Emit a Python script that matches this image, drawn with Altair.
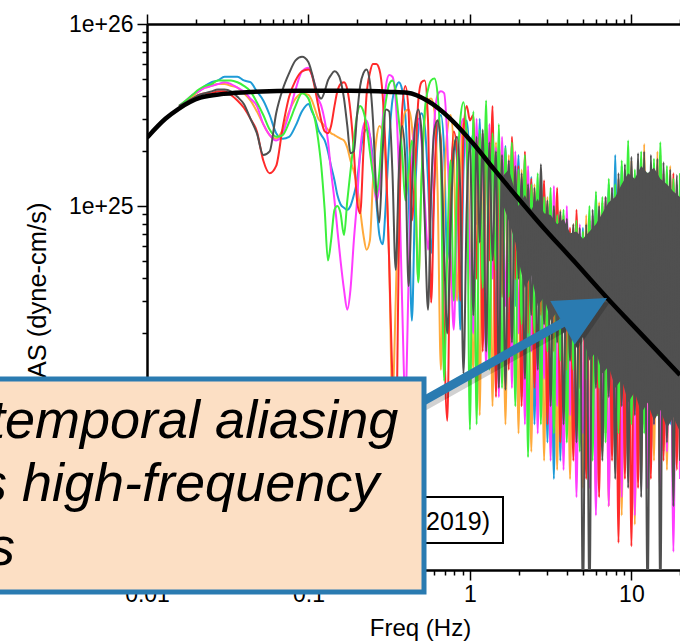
import altair as alt
import pandas as pd

FONT = "Liberation Sans"

# ---------------- frequency grid (Hz) ----------------
FREQ_LOW = [0.0158, 0.0174, 0.0191, 0.0209, 0.0229, 0.0251, 0.0275, 0.0302, 0.0331, 0.0363,
            0.0398, 0.0437, 0.0479, 0.0525, 0.0575, 0.0631, 0.0692, 0.0759, 0.0832, 0.0912]
FREQ_MID = [0.100, 0.105, 0.110, 0.115, 0.120, 0.126, 0.132, 0.138, 0.145, 0.151,
            0.158, 0.166, 0.174, 0.182, 0.191, 0.200, 0.209, 0.219, 0.229, 0.240,
            0.251, 0.263, 0.275, 0.288, 0.302, 0.316, 0.331, 0.347, 0.363, 0.380,
            0.398, 0.417, 0.437, 0.457, 0.479, 0.501, 0.525, 0.550, 0.575, 0.603,
            0.631, 0.661, 0.692, 0.724, 0.759, 0.794, 0.832, 0.871, 0.912, 0.955, 1.000]
FREQ_HIGH = [1.05, 1.10, 1.15, 1.20, 1.26, 1.32, 1.38, 1.45, 1.51, 1.58,
             1.66, 1.74, 1.82, 1.91, 2.00, 2.09, 2.19, 2.29, 2.40, 2.51,
             2.63, 2.75, 2.88, 3.02, 3.16, 3.31, 3.47, 3.63, 3.80, 3.98,
             4.17, 4.37, 4.57, 4.79, 5.01, 5.25, 5.50, 5.75, 6.03, 6.31,
             6.61, 6.92, 7.24, 7.59, 7.94, 8.32, 8.71, 9.12, 9.55, 10.0,
             10.5, 11.0, 11.5, 12.0, 12.6, 13.2, 13.8, 14.5, 15.1, 15.8,
             16.6, 17.4, 18.2, 19.1, 20.0]
FREQS = FREQ_LOW + FREQ_MID + FREQ_HIGH

# ---------------- spectra, log10 amplitude (dyne-cm/s) ----------------
BLUE_LOW = [25.55, 25.57, 25.61, 25.63, 25.66, 25.68, 25.69, 25.71, 25.71, 25.71,
            25.69, 25.68, 25.63, 25.58, 25.50, 25.40, 25.37, 25.38, 25.44, 25.52]
BLUE_MID = [25.56, 25.52, 25.48, 25.42, 25.39, 25.36, 25.30, 25.22, 25.14, 25.06,
            25.01, 24.99, 24.98, 25.00, 25.06, 25.14, 25.28, 25.39, 25.42, 25.39,
            25.25, 25.03, 24.84, 24.79, 25.03, 25.36, 25.58, 25.65, 25.68, 25.64,
            25.50, 25.08, 24.37, 25.03, 25.41, 25.51, 25.44, 25.14, 24.74, 25.14,
            25.44, 25.50, 25.30, 24.70, 25.08, 25.36, 25.25, 24.32, 25.19, 25.47, 25.30]
BLUE_HIGH = [25.40, 24.90, 25.48, 24.45, 25.35, 24.75, 25.45, 24.25, 25.30, 24.60,
             25.33, 24.15, 25.20, 24.45, 25.28, 23.95, 25.12, 24.25, 25.16, 23.80,
             25.02, 24.10, 25.10, 23.70, 24.95, 23.50, 25.02, 23.60, 24.90, 23.90,
             24.86, 23.75, 24.80, 24.05, 24.88, 23.70, 24.92, 23.95, 25.06, 23.60,
             25.00, 23.90, 25.12, 23.65, 25.28, 23.85, 25.22, 23.55, 25.14, 23.90,
             25.10, 23.70, 25.18, 23.95, 25.12, 23.60, 25.08, 23.85, 25.15, 23.65,
             25.05, 23.80, 25.10, 23.70, 25.02]

ORANGE_LOW = [25.55, 25.57, 25.60, 25.63, 25.65, 25.66, 25.67, 25.67, 25.66, 25.65,
              25.62, 25.58, 25.52, 25.45, 25.39, 25.37, 25.42, 25.52, 25.59, 25.62]
ORANGE_MID = [25.61, 25.58, 25.53, 25.48, 25.46, 25.44, 25.42, 25.40, 25.39, 25.38,
              25.37, 25.36, 25.32, 25.25, 25.19, 25.11, 24.98, 24.84, 24.76, 24.81,
              25.14, 25.36, 25.44, 25.41, 25.19, 24.70, 23.93, 24.48, 25.14, 25.41,
              25.52, 25.53, 25.44, 25.19, 24.59, 25.14, 25.47, 25.58, 25.59, 25.52,
              25.08, 24.10, 25.03, 25.41, 25.50, 25.30, 24.48, 25.14, 25.47, 25.41, 24.76]
ORANGE_HIGH = [24.10, 25.30, 23.85, 25.40, 24.40, 25.25, 23.90, 25.35, 24.30, 25.20,
               23.80, 25.28, 24.15, 25.12, 23.75, 25.20, 24.05, 25.05, 23.65, 25.12,
               23.95, 24.98, 23.60, 25.05, 23.85, 24.92, 23.55, 24.98, 23.80, 24.85,
               23.50, 24.90, 23.75, 24.82, 23.45, 24.95, 23.70, 24.90, 23.40, 25.02,
               23.65, 25.05, 23.35, 25.10, 23.60, 25.15, 23.30, 25.20, 23.55, 25.25,
               23.25, 25.22, 23.50, 25.34, 23.45, 25.20, 23.60, 25.30, 23.35, 25.18,
               23.55, 25.22, 23.40, 25.12, 23.50]

MAGENTA_LOW = [25.55, 25.58, 25.61, 25.63, 25.65, 25.66, 25.67, 25.68, 25.67, 25.65,
               25.63, 25.59, 25.55, 25.45, 25.39, 25.36, 25.40, 25.51, 25.64, 25.74]
MAGENTA_MID = [25.76, 25.72, 25.66, 25.59, 25.55, 25.47, 25.36, 25.19, 25.03, 24.87,
               24.70, 24.54, 24.43, 24.54, 24.81, 25.03, 25.30, 25.44, 25.47, 25.39,
               25.19, 25.03, 25.11, 25.47, 25.66, 25.72, 25.71, 25.58, 25.19, 24.48,
               23.93, 24.59, 25.25, 25.44, 25.48, 25.36, 25.03, 24.76, 25.03, 25.47,
               25.61, 25.63, 25.62, 25.36, 24.76, 24.32, 25.03, 25.41, 25.48, 25.25, 24.70]
MAGENTA_HIGH = [24.30, 25.48, 24.80, 25.40, 24.10, 25.45, 24.60, 25.32, 23.95, 25.38,
                24.45, 25.25, 24.00, 25.30, 24.30, 25.15, 23.80, 25.22, 24.20, 25.05,
                23.75, 25.12, 24.05, 25.00, 23.60, 25.11, 23.90, 24.95, 23.55, 25.00,
                23.85, 24.85, 23.40, 24.90, 23.75, 24.80, 23.45, 24.95, 23.30, 24.98,
                23.70, 25.05, 23.35, 25.10, 23.65, 25.02, 23.40, 25.15, 23.60, 25.10,
                23.30, 25.20, 23.70, 25.12, 23.45, 25.18, 23.80, 25.10, 23.35, 25.15,
                23.65, 25.05, 23.10, 25.12, 23.50]

RED_LOW = [25.55, 25.57, 25.59, 25.61, 25.62, 25.62, 25.63, 25.63, 25.61, 25.58,
           25.54, 25.48, 25.41, 25.25, 25.18, 25.22, 25.43, 25.60, 25.69, 25.74]
RED_MID = [25.75, 25.72, 25.64, 25.55, 25.47, 25.41, 25.40, 25.44, 25.55, 25.63,
           25.67, 25.68, 25.64, 25.52, 25.30, 25.03, 24.96, 25.30, 25.61, 25.73,
           25.78, 25.78, 25.75, 25.61, 25.25, 24.70, 24.04, 23.66, 24.76, 25.52,
           25.66, 25.52, 24.92, 25.19, 25.58, 25.68, 25.69, 25.47, 24.47, 25.14,
           25.47, 25.36, 24.32, 23.82, 25.03, 25.41, 25.30, 24.48, 25.41, 25.55, 25.47]
RED_HIGH = [25.50, 24.60, 25.40, 24.20, 25.45, 24.70, 25.55, 23.95, 25.35, 24.50,
            25.25, 24.10, 25.38, 24.60, 25.22, 23.90, 25.30, 24.30, 25.15, 24.00,
            25.08, 24.40, 25.14, 23.80, 25.00, 24.20, 25.10, 23.70, 24.95, 24.10,
            24.88, 23.60, 24.98, 24.00, 24.85, 23.50, 24.92, 23.90, 24.96, 23.40,
            25.02, 23.75, 24.98, 23.60, 25.08, 23.15, 25.12, 23.50, 25.18, 23.13,
            25.10, 23.45, 25.26, 23.80, 25.15, 23.50, 25.22, 23.85, 25.28, 23.60,
            25.12, 23.90, 25.18, 23.55, 25.10]

GREEN_LOW = [25.55, 25.58, 25.61, 25.64, 25.66, 25.67, 25.69, 25.69, 25.69, 25.68,
             25.66, 25.63, 25.57, 25.50, 25.42, 25.38, 25.39, 25.46, 25.55, 25.62]
GREEN_MID = [25.59, 25.53, 25.47, 25.36, 25.22, 24.98, 24.70, 24.81, 24.98, 25.00,
             24.96, 24.84, 25.03, 25.19, 25.36, 25.50, 25.55, 25.52, 25.44, 25.30,
             25.17, 25.06, 25.19, 25.44, 25.58, 25.67, 25.69, 25.63, 25.47, 25.30,
             25.03, 25.19, 25.36, 25.14, 24.58, 25.14, 25.52, 25.64, 25.69, 25.70,
             25.61, 25.25, 24.04, 24.76, 25.25, 24.48, 25.14, 25.47, 25.57, 25.36, 23.77]
GREEN_HIGH = [25.52, 23.80, 25.42, 24.55, 25.58, 24.10, 25.40, 24.65, 25.45, 24.00,
              25.32, 24.50, 25.35, 23.90, 25.20, 24.35, 25.28, 23.62, 25.12, 24.30,
              25.18, 23.80, 25.05, 24.20, 25.10, 23.75, 24.95, 24.15, 24.98, 23.70,
              24.85, 24.10, 24.92, 23.65, 24.86, 24.05, 25.00, 23.60, 25.08, 24.00,
              25.05, 23.70, 25.15, 24.10, 25.12, 23.75, 25.25, 24.15, 25.36, 23.80,
              25.20, 24.20, 25.30, 23.75, 25.18, 24.10, 25.26, 23.85, 25.35, 24.20,
              25.22, 23.90, 25.15, 24.05, 25.18]

GRAY_LOW = [25.55, 25.57, 25.59, 25.61, 25.62, 25.63, 25.64, 25.64, 25.63, 25.60,
            25.56, 25.48, 25.40, 25.28, 25.30, 25.51, 25.64, 25.73, 25.80, 25.82]
GRAY_MID = [25.79, 25.73, 25.66, 25.61, 25.59, 25.63, 25.69, 25.72, 25.74, 25.73,
            25.69, 25.59, 25.44, 25.29, 25.30, 25.50, 25.66, 25.73, 25.75, 25.68,
            25.47, 25.08, 24.91, 25.30, 25.53, 25.52, 25.19, 24.65, 25.19, 25.44,
            25.25, 24.56, 25.08, 25.44, 25.53, 25.41, 24.92, 24.43, 25.08, 25.42,
            25.47, 25.30, 24.76, 24.30, 24.87, 25.30, 25.38, 25.08, 24.08, 24.98, 25.36]
GRAY_HIGH = [24.40, 25.38, 24.80, 25.42, 24.20, 25.35, 24.70, 25.30, 24.00, 25.28,
             23.99, 25.25, 24.25, 25.22, 24.60, 25.18, 24.05, 25.12, 24.40, 25.10,
             24.10, 25.23, 24.35, 25.03, 23.90, 25.00, 24.25, 24.97, 23.80, 24.93,
             24.15, 24.90, 23.70, 24.88, 22.80, 24.90, 22.80, 24.98, 24.00, 25.00,
             23.60, 25.05, 23.95, 25.10, 23.50, 25.18, 23.90, 25.23, 23.45, 25.27,
             23.85, 25.29, 23.40, 25.30, 22.80, 25.28, 23.80, 25.26, 22.80, 25.24,
             23.70, 25.20, 23.35, 25.17, 23.60]

# dense high-frequency envelope of the dark-gray spectrum
BAND_FREQ = [1.58, 1.74, 1.91, 2.00, 2.19, 2.40, 2.63, 2.88, 3.16, 3.47, 3.80, 4.17, 4.57,
             5.01, 5.50, 6.03, 6.61, 7.24, 7.94, 8.71, 9.55, 10.5, 11.5,
             12.6, 13.8, 15.1, 16.6, 18.2, 20.0]
BAND_TOP = [25.16, 25.20, 25.08, 25.00, 25.06, 24.98, 25.04, 24.96, 24.95, 24.90, 24.93, 24.85, 24.86,
            24.82, 24.86, 24.90, 24.96, 25.02, 25.05, 25.12, 25.18, 25.15, 25.22,
            25.18, 25.21, 25.15, 25.12, 25.08, 25.05]
BAND_BOTTOM = [25.02, 24.92, 24.80, 24.70, 24.55, 24.62, 24.45, 24.50, 24.37, 24.42, 24.30, 24.35, 24.22,
               24.28, 24.15, 24.20, 24.08, 24.12, 24.00, 24.05, 23.92, 23.98, 23.86,
               23.92, 23.82, 23.88, 23.78, 23.84, 23.76]

# smooth source model (black)
MODEL_FREQ = [0.01, 0.013, 0.0157, 0.0214, 0.0298, 0.0438, 0.0892, 0.182, 0.322, 0.41,
              0.546, 0.757, 1.05, 1.40, 1.97, 2.73, 4.38, 7.10, 11.4, 20.0]
MODEL_LOG = [25.375, 25.479, 25.534, 25.595, 25.616, 25.627, 25.633, 25.633, 25.627, 25.622,
             25.578, 25.479, 25.342, 25.205, 25.047, 24.90, 24.70, 24.493, 24.30, 24.071]

X_TICKS = [0.01, 0.02, 0.03, 0.04, 0.05, 0.06, 0.07, 0.08, 0.09,
           0.1, 0.2, 0.3, 0.4, 0.5, 0.6, 0.7, 0.8, 0.9,
           1, 2, 3, 4, 5, 6, 7, 8, 9, 10, 20]
Y_TICKS = [1e23, 2e23, 3e23, 4e23, 5e23, 6e23, 7e23, 8e23, 9e23,
           1e24, 2e24, 3e24, 4e24, 5e24, 6e24, 7e24, 8e24, 9e24,
           1e25, 2e25, 3e25, 4e25, 5e25, 6e25, 7e25, 8e25, 9e25, 1e26]

ANNOT_LINES = ["temporal aliasing", "s high-frequency", "s"]
LEGEND_TEXT = "2019)"
X_TITLE = "Freq (Hz)"
Y_TITLE = "FAS (dyne-cm/s)"

# ---------------- helpers ----------------
def spectrum(vals, freqs=FREQS):
    pairs = list(zip(freqs, vals))
    return pd.DataFrame({"freq": [p[0] for p in pairs], "amp": [10 ** p[1] for p in pairs]})

xscale = alt.Scale(type="log", domain=[0.01, 20], nice=False)
yscale = alt.Scale(type="log", domain=[1e23, 1e26], nice=False)

MAJOR = "abs(log(datum.value)/LN10 - round(log(datum.value)/LN10)) < 0.000001"
TICK_SIZE = {"condition": {"test": MAJOR, "value": 10}, "value": 5}

common_axis = dict(tickSize=TICK_SIZE, tickWidth=1.5, tickColor="black",
                   domainColor="black", domainWidth=2.5, grid=False, offset=0,
                   labelOverlap=False, labelFlush=False, labelBound=False)

bottom_axis = alt.Axis(orient="bottom", values=X_TICKS, title=X_TITLE,
                       labelExpr=MAJOR + " ? format(datum.value, '~g') : ''",
                       labelFont=FONT, labelFontSize=23, labelColor="black", labelPadding=3,
                       titleFont=FONT, titleFontSize=24, titleFontWeight="normal",
                       titleColor="black", titleX=273, titlePadding=10, **common_axis)
top_axis = alt.Axis(orient="top", values=X_TICKS, title="", labels=False, **common_axis)
left_axis = alt.Axis(orient="left", values=Y_TICKS, title=Y_TITLE,
                     labelExpr=MAJOR + " ? '1e+' + round(log(datum.value)/LN10) : ''",
                     labelFont=FONT, labelFontSize=23, labelColor="black", labelPadding=4,
                     titleFont=FONT, titleFontSize=25.5, titleFontWeight="normal",
                     titleColor="black", titlePadding=18, **common_axis)


def line(df, color, width=2.0, xaxis=None, yaxis=None):
    return alt.Chart(df).mark_line(color=color, strokeWidth=width, interpolate="monotone",
                                   clip=True).encode(
        x=alt.X("freq:Q", scale=xscale, axis=xaxis),
        y=alt.Y("amp:Q", scale=yscale, axis=yaxis),
    )


band_df = pd.DataFrame({"freq": BAND_FREQ,
                        "top": [10 ** v for v in BAND_TOP],
                        "bottom": [10 ** v for v in BAND_BOTTOM]})
band = alt.Chart(band_df).mark_area(color="#505050", interpolate="linear", clip=True).encode(
    x=alt.X("freq:Q", scale=xscale, axis=None),
    y=alt.Y("top:Q", scale=yscale, axis=None),
    y2="bottom:Q",
)

model_df = pd.DataFrame({"freq": MODEL_FREQ, "amp": [10 ** v for v in MODEL_LOG]})

ONE = pd.DataFrame({"k": [0]})

legend_box = alt.Chart(ONE).mark_rect(fill="white", stroke="black", strokeWidth=2).encode(
    x=alt.value(250), x2=alt.value(356), y=alt.value(473), y2=alt.value(519))
legend_text = alt.Chart(ONE).mark_text(text=LEGEND_TEXT, align="right", baseline="alphabetic",
                                       font=FONT, fontSize=25, color="black").encode(
    x=alt.value(343), y=alt.value(506))

ARROW = ("M -1.036 0.632 L 0.487 -0.222 L 0.587 -0.043 L 0.91 -0.51 "
         "L 0.343 -0.479 L 0.443 -0.300 L -1.080 0.554 Z")
arrow_shadow = alt.Chart(ONE).mark_point(shape=ARROW, filled=True, size=40000, color="#000000",
                                         opacity=0.18, strokeWidth=0).encode(
    x=alt.value(372), y=alt.value(329))
arrow = alt.Chart(ONE).mark_point(shape=ARROW, filled=True, size=40000, color="#2a7bb1",
                                  opacity=1, strokeWidth=0).encode(
    x=alt.value(369), y=alt.value(325))

box = alt.Chart(ONE).mark_rect(fill="#fcdfc4", stroke="#2a7bb1", strokeWidth=5).encode(
    x=alt.value(-170), x2=alt.value(277), y=alt.value(355), y2=alt.value(568))

text_pos = [(-157, 414), (-167, 477), (-159, 541)]
texts = [
    alt.Chart(ONE).mark_text(text=t, align="left", baseline="alphabetic", font=FONT,
                             fontSize=54, fontStyle="italic", color="black").encode(
        x=alt.value(p[0]), y=alt.value(p[1]))
    for t, p in zip(ANNOT_LINES, text_pos)
]

layers = [
    line(spectrum(BLUE_LOW + BLUE_MID + BLUE_HIGH), "#1e9bd7", xaxis=top_axis),
    line(spectrum(ORANGE_LOW + ORANGE_MID + ORANGE_HIGH), "#ffaa3c"),
    line(spectrum(MAGENTA_LOW + MAGENTA_MID + MAGENTA_HIGH), "#ff3cff"),
    line(spectrum(RED_LOW + RED_MID + RED_HIGH), "#ff2a2a"),
    line(spectrum(GREEN_LOW + GREEN_MID + GREEN_HIGH), "#3cf03c"),
    band,
    line(spectrum(GRAY_LOW + GRAY_MID + GRAY_HIGH), "#505050"),
    line(model_df, "#000000", width=4.5, xaxis=bottom_axis, yaxis=left_axis),
    legend_box,
    legend_text,
    arrow_shadow,
    arrow,
    box,
] + texts

chart = alt.layer(*layers).resolve_axis(x="independent", y="independent").properties(
    width=533,
    height=546,
    padding={"left": 147, "top": 24, "right": 0, "bottom": 72},
    autosize=alt.AutoSizeParams(type="none"),
).configure_view(stroke=None).configure(background="white")

chart.save("out.html", embed_options={"renderer": "svg", "actions": False})
